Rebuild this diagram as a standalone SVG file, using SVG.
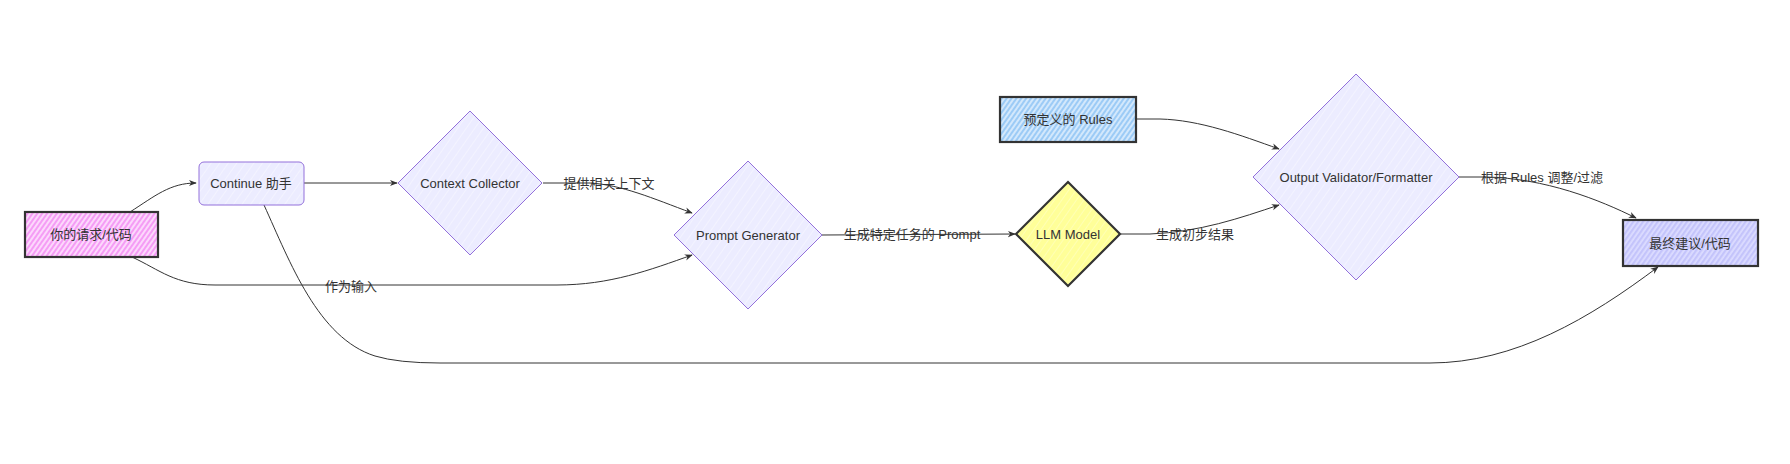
<svg xmlns="http://www.w3.org/2000/svg" width="1790" height="464" viewBox="0 0 1790 464">
<style>
text{font-family:"Liberation Sans","Noto Sans CJK SC",sans-serif;font-size:13px;fill:#333;text-anchor:middle;dominant-baseline:central}
.edge{fill:none;stroke:#333;stroke-width:1}
.def{fill:#ECECFF;stroke:#9370DB;stroke-width:1}
.hard{stroke:#333;stroke-width:2.2}
</style>
<defs>
<marker id="arr" viewBox="0 0 10 10" refX="9" refY="5" markerWidth="8" markerHeight="8" markerUnits="userSpaceOnUse" orient="auto">
<path d="M0,1 L10,5 L0,9 L3,5 Z" fill="#333"/>
</marker>
<pattern id="hPink" width="4" height="4" patternUnits="userSpaceOnUse" patternTransform="rotate(35)"><rect width="4" height="4" fill="#fcd8fc"/><rect width="2" height="4" fill="#f59cf5"/></pattern>
<pattern id="hBlue" width="4" height="4" patternUnits="userSpaceOnUse" patternTransform="rotate(35)"><rect width="4" height="4" fill="#d3e8fc"/><rect width="2" height="4" fill="#9ccbf6"/></pattern>
<pattern id="hLav" width="4" height="4" patternUnits="userSpaceOnUse" patternTransform="rotate(35)"><rect width="4" height="4" fill="#dcdcff"/><rect width="2.2" height="4" fill="#c4c4fb"/></pattern>
<pattern id="hYel" width="6" height="6" patternUnits="userSpaceOnUse" patternTransform="rotate(35)"><rect width="6" height="6" fill="#ffff99"/><rect width="0.6" height="6" fill="#ffffc8"/></pattern>
<pattern id="hDef" width="7" height="7" patternUnits="userSpaceOnUse" patternTransform="rotate(35)"><rect width="7" height="7" fill="#ECECFF"/><rect width="0.6" height="7" fill="#f8f8ff"/></pattern>
</defs>

<g id="connectors">
<path class="edge" d="M130,212 C155,196 170,183 196,183" marker-end="url(#arr)"/>
<path class="edge" d="M132,257 C160,270 175,285 215,285 L557,285 C610,285 650,270 692,255" marker-end="url(#arr)"/>
<path class="edge" d="M304,183 L397,183" marker-end="url(#arr)"/>
<path class="edge" d="M264,205 C290,262 318,338 375,356 Q398,363 440,363 L1430,363 C1515,363 1590,318 1658,267" marker-end="url(#arr)"/>
<path class="edge" d="M543,183 L590,183 C622,185 652,198 692,213" marker-end="url(#arr)"/>
<path class="edge" d="M822,235 L1015,234" marker-end="url(#arr)"/>
<path class="edge" d="M1121,234 L1150,234 C1200,232 1240,218 1279,205" marker-end="url(#arr)"/>
<path class="edge" d="M1136,119 L1160,119 C1200,120 1240,135 1279,149" marker-end="url(#arr)"/>
<path class="edge" d="M1459,177 L1485,177 C1545,178 1600,200 1636,218" marker-end="url(#arr)"/>
<text x="351" y="286">作为输入</text>
<text x="609" y="183">提供相关上下文</text>
<text x="912" y="234">生成特定任务的 Prompt</text>
<text x="1195" y="234">生成初步结果</text>
<text x="1542" y="177">根据 Rules 调整/过滤</text>
</g>

<g id="n1">
<rect x="25" y="212" width="133" height="45" fill="url(#hPink)" class="hard"/>
<text x="91" y="234">你的请求/代码</text>
</g>
<g id="n2">
<rect x="199" y="162" width="105" height="43" rx="5" fill="url(#hDef)" stroke="#9370DB" stroke-width="1"/>
<text x="251" y="183">Continue 助手</text>
</g>
<g id="n3">
<polygon points="470,111 542,183 470,255 398,183" fill="url(#hDef)" stroke="#9370DB" stroke-width="1"/>
<text x="470" y="183">Context Collector</text>
</g>
<g id="n4">
<polygon points="748,161 822,235 748,309 674,235" fill="url(#hDef)" stroke="#9370DB" stroke-width="1"/>
<text x="748" y="235">Prompt Generator</text>
</g>
<g id="n5">
<polygon points="1068,182 1120,234 1068,286 1016,234" fill="url(#hYel)" class="hard"/>
<text x="1068" y="234">LLM Model</text>
</g>
<g id="n6">
<rect x="1000" y="97" width="136" height="45" fill="url(#hBlue)" class="hard"/>
<text x="1068" y="119">预定义的 Rules</text>
</g>
<g id="n7">
<polygon points="1356,74 1459,177 1356,280 1253,177" fill="url(#hDef)" stroke="#9370DB" stroke-width="1"/>
<text x="1356" y="177">Output Validator/Formatter</text>
</g>
<g id="n8">
<rect x="1623" y="220" width="135" height="46" fill="url(#hLav)" class="hard"/>
<text x="1690" y="243">最终建议/代码</text>
</g>
</svg>
